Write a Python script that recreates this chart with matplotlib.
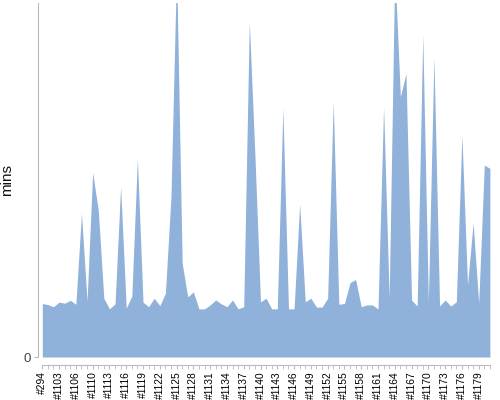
import matplotlib
matplotlib.use('Agg')
import matplotlib.pyplot as plt
import numpy as np

plt.rcParams['font.family'] = ['Liberation Sans', 'DejaVu Sans']

# build numbers on the x axis (only every 3rd one is labelled)
builds = [294, 1101, 1102, 1103, 1104, 1105, 1106, 1108, 1109,
          1110, 1111, 1112, 1113, 1114, 1115, 1116, 1117, 1118, 1119,
          1120, 1121, 1122, 1123, 1124, 1125, 1126, 1127, 1128, 1129,
          1130, 1131, 1132, 1133, 1134, 1135, 1136, 1137, 1138, 1139,
          1140, 1141, 1142, 1143, 1144, 1145, 1146, 1147, 1148, 1149,
          1150, 1151, 1152, 1153, 1154, 1155, 1156, 1157, 1158, 1159,
          1160, 1161, 1162, 1163, 1164, 1165, 1166, 1167, 1168, 1169,
          1170, 1171, 1172, 1173, 1174, 1175, 1176, 1177, 1178, 1179,
          1180, 1181]

# duration per build
mins = [15.1, 14.8, 14.2, 15.5, 15.2, 16.0, 14.9, 40.6, 15.8, 52.1,
        41.5, 16.6, 13.6, 15.0, 48.1, 13.8, 17.2, 56.1, 15.5, 14.2,
        16.6, 14.5, 18.0, 45.3, 110.0, 26.5, 17.0, 18.4, 13.6, 13.6,
        14.7, 16.1, 15.0, 14.2, 16.1, 13.6, 14.2, 94.7, 57.0, 15.6,
        16.6, 13.6, 13.6, 70.2, 13.6, 13.6, 43.2, 15.6, 16.6, 14.1,
        14.1, 16.6, 72.1, 14.9, 15.1, 21.0, 21.9, 14.2, 14.7, 14.7,
        13.6, 70.7, 16.6, 110.0, 73.5, 80.1, 16.1, 14.4, 91.0, 15.6,
        84.8, 14.4, 16.1, 14.4, 15.6, 62.7, 20.3, 37.9, 15.2, 54.2,
        53.3]

labels = ['#{}'.format(b) for b in builds]
x = np.arange(len(builds))

fig = plt.figure(figsize=(5, 4), dpi=100)
ax = fig.add_axes([0.0846, 0.1075, 0.8952, 0.885])

ax.fill_between(x, 0, mins, color='#8FB1DA', linewidth=0)

ax.set_xlim(0, len(builds) - 1)
ax.set_ylim(0, 100)

# axes look
for side in ['top', 'right']:
    ax.spines[side].set_visible(False)
ax.spines['left'].set_color('#BBBBBB')
ax.spines['left'].set_position(('outward', 3))
ax.spines['bottom'].set_color('#BBBBBB')
ax.spines['bottom'].set_position(('outward', 6))

ax.set_yticks([0])
ax.set_yticklabels(['0'], fontsize=9.5, color='#444444')
ax.tick_params(axis='y', length=3, color='#BBBBBB', pad=2)

major = x[::3]
ax.set_xticks(major)
ax.set_xticklabels([labels[i] for i in major], rotation=90, fontsize=7.4, color='#000000')
ax.set_xticks(x, minor=True)
ax.tick_params(axis='x', which='both', length=3, color='#BBBBBB', pad=1.5)

ax.set_ylabel('mins', fontsize=11, color='#111111')
ax.yaxis.set_label_coords(-0.063, 0.5)

fig.savefig('out.png', dpi=100)
